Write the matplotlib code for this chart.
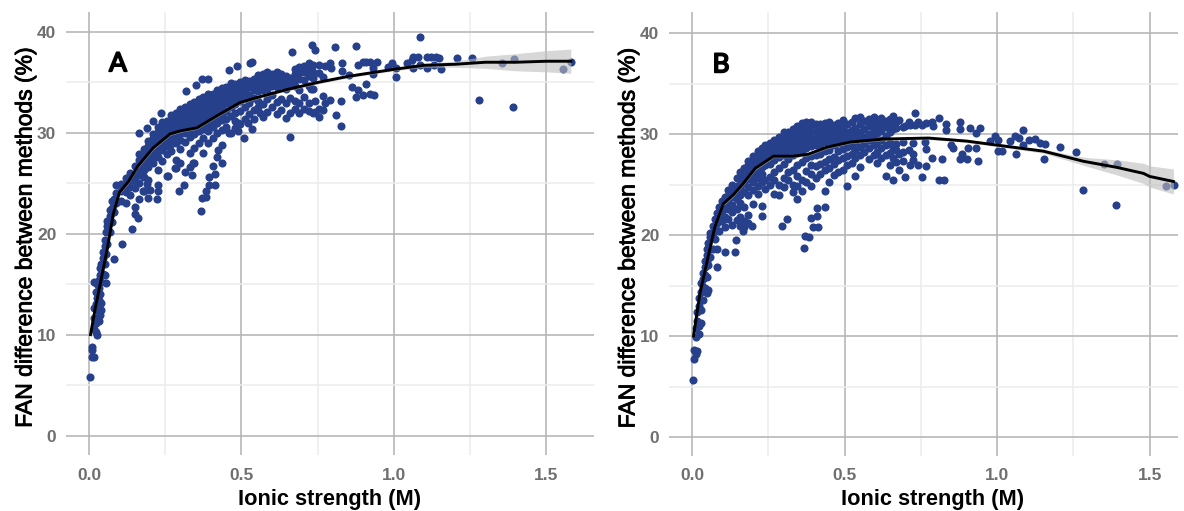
import matplotlib
matplotlib.use("Agg")
import matplotlib.pyplot as plt
import matplotlib.patheffects as pe
from matplotlib.ticker import MultipleLocator
import numpy as np

plt.rcParams["font.family"] = ["Liberation Sans", "DejaVu Sans"]

W, H = 1184, 511
POINT_COLOR = "#27408B"

# ------------------------------------------------------------
# Panel A: (x, [y values at that x])
# ------------------------------------------------------------
a_steep = [
    (0.003, [5.8]), (0.009, [8.8, 8.5]), (0.011, [7.8]), (0.015, [7.8, 10.6, 11.6]),
    (0.017, [15.2, 12.6]), (0.022, [10.3, 11.2, 13.0, 14.2]), (0.025, [10.0, 15.0, 13.6]),
    (0.032, [11.4, 12.2, 13.4, 14.6, 15.4]), (0.036, [11.9, 15.9, 14.0, 16.6]),
    (0.04, [13.1, 12.4, 17.0, 15.2]), (0.045, [16.0, 17.6, 18.2]), (0.052, [15.9, 17.0, 18.8, 19.4]),
    (0.055, [15.1, 18.0, 20.2]), (0.06, [19.0, 20.8, 21.3]), (0.068, [20.2, 21.8, 22.4]),
    (0.075, [21.2, 22.6, 23.2]), (0.082, [17.5, 22.2, 23.4]), (0.09, [23.0, 24.8, 24.0]),
    (0.107, [19.0]), (0.14, [20.5]), (0.15, [22.0]), (0.16, [21.6]),
]
a_fill = [
    (0.105, [24.2, 24.9, 23.2]), (0.12, [24.1, 24.8, 25.5, 23.0]), (0.135, [23.8, 24.6, 25.3, 26.0]),
    (0.15, [22.7, 24.5, 25.2, 25.9, 26.7]), (0.165, [23.4, 25.0, 25.8, 26.5, 27.3, 27.9]),
    (0.18, [24.2, 25.6, 26.3, 27.0, 27.7, 28.4]), (0.195, [23.5, 25.3, 26.6, 27.3, 28.0, 28.7, 29.2]),
    (0.21, [27.0, 27.6, 28.3, 28.9, 29.5, 29.9]), (0.225, [24.8, 26.3, 27.6, 28.2, 28.8, 29.5, 30.1, 30.6]),
    (0.24, [27.2, 28.3, 28.9, 29.5, 30.1, 30.7, 31.1]), (0.255, [25.7, 27.9, 28.7, 29.3, 30.0, 30.6, 31.2]),
    (0.27, [28.2, 28.9, 29.6, 30.2, 30.8, 31.4, 31.8]), (0.285, [26.5, 27.3, 29.0, 29.7, 30.3, 30.9, 31.6, 32.0]),
    (0.30, [27.0, 28.4, 29.3, 29.9, 30.6, 31.2, 31.9, 32.4]), (0.315, [26.1, 29.1, 30.0, 30.7, 31.4, 32.0, 32.6]),
    (0.33, [26.6, 28.0, 29.6, 30.3, 31.0, 31.6, 32.3, 32.9]), (0.345, [27.0, 28.5, 29.9, 30.6, 31.2, 31.9, 32.5, 33.1]),
    (0.36, [29.0, 30.2, 30.9, 31.5, 32.2, 32.8, 33.4]), (0.375, [28.0, 29.5, 30.4, 31.1, 31.8, 32.5, 33.1, 33.6]),
    (0.39, [29.0, 30.2, 30.9, 31.6, 32.3, 33.0, 33.6, 33.9]), (0.405, [29.5, 30.6, 31.3, 32.0, 32.7, 33.3, 33.9]),
    (0.42, [30.0, 31.0, 31.7, 32.4, 33.1, 33.7, 34.2]), (0.435, [30.3, 31.3, 32.0, 32.7, 33.4, 34.0, 34.4]),
    (0.45, [30.6, 31.4, 32.2, 33.0, 33.6, 34.2, 34.5]), (0.465, [30.0, 31.7, 32.6, 33.3, 33.9, 34.5, 34.9]),
    (0.48, [30.5, 31.2, 32.0, 32.9, 33.6, 34.2, 34.8]), (0.495, [30.9, 32.2, 33.2, 33.9, 34.5, 35.0]),
    (0.51, [31.4, 32.6, 33.6, 34.2, 34.8, 35.2]), (0.525, [31.9, 33.0, 33.8, 34.5, 35.1]),
    (0.54, [31.4, 32.3, 33.5, 34.2, 34.8, 35.3]), (0.555, [32.6, 33.2, 34.1, 34.7, 35.3, 35.7]),
    (0.57, [31.6, 32.9, 34.2, 34.8, 35.4, 35.8]), (0.585, [32.1, 33.4, 34.3, 35.0, 35.6, 36.0]),
    (0.60, [32.6, 33.8, 34.6, 35.2, 35.8]), (0.615, [31.9, 33.1, 34.5, 35.1, 35.7, 36.0]),
    (0.63, [32.3, 33.4, 34.7, 35.3, 35.8]), (0.645, [31.5, 33.0, 34.3, 35.0, 35.6]),
    (0.66, [32.0, 33.5, 34.8, 35.4]), (0.675, [32.4, 33.2, 34.6, 35.2, 35.8, 36.3]),
    (0.69, [32.0, 33.0, 34.2, 35.3, 35.9, 36.5]), (0.705, [32.4, 33.6, 35.2, 36.0, 36.6]),
    (0.72, [33.0, 32.2, 34.6, 35.6, 36.3, 36.9]), (0.735, [32.0, 34.3, 35.4, 36.0, 36.7]),
]
a_lower = [
    (0.367, [22.3]), (0.37, [23.5]), (0.383, [23.6, 24.2]), (0.395, [24.8, 25.6]), (0.413, [24.8, 25.9]),
    (0.408, [26.7]), (0.435, [27.0, 28.8]), (0.419, [27.6]), (0.424, [28.3]), (0.313, [24.8]), (0.295, [24.2]),
    (0.26, [25.7]), (0.227, [24.2]), (0.222, [23.4]), (0.19, [24.9]), (0.2, [24.3]), (0.178, [24.2]),
    (0.282, [26.5]), (0.337, [25.8]), (0.342, [27.0]), (0.508, [29.5]), (0.536, [30.4]), (0.659, [29.6]),
    (0.49, [30.2, 31.0]), (0.46, [30.0]), (0.52, [31.0]), (0.56, [32.0]),
]
a_right = [
    (0.164, [30.0]), (0.189, [30.5]), (0.209, [31.2]), (0.236, [32.0]), (0.317, [34.1]), (0.35, [34.7]),
    (0.37, [35.3]), (0.39, [35.3]), (0.458, [36.2]), (0.485, [36.6]), (0.528, [36.9]), (0.533, [37.0]),
    (0.667, [38.0]), (0.731, [38.7]), (0.74, [38.2, 33.2, 32.1]), (0.807, [38.5]), (0.876, [38.6, 33.6]),
    (1.085, [39.5, 36.7]), (1.207, [37.4]), (1.257, [37.4]), (1.353, [36.9]), (1.394, [37.3]), (1.553, [36.3]),
    (1.58, [37.0]), (1.28, [33.3]), (1.39, [32.6]), (1.008, [35.5, 36.4]), (0.826, [30.7, 33.2]), (0.809, [31.8]),
    (0.754, [31.6, 32.4, 35.9, 36.7]), (0.861, [34.5]), (0.907, [34.8, 37.0]), (0.9, [33.8, 37.0]), (0.933, [33.8]),
    (0.883, [34.2]), (0.922, [33.9, 37.0]), (0.945, [37.0]), (0.881, [36.7]), (0.83, [36.9, 36.1]), (0.853, [35.7]),
    (0.93, [36.4, 35.8]), (0.993, [36.9]), (0.98, [36.5]), (1.044, [36.9]), (1.064, [37.5, 36.4]), (1.08, [37.5]),
    (1.058, [37.2]), (1.107, [36.4, 37.5]), (1.153, [36.3]), (1.122, [37.5]), (1.138, [37.5]), (1.148, [37.4]),
    (1.13, [36.7]), (0.727, [34.3]), (0.766, [33.7, 32.3, 35.5]), (0.79, [33.3, 36.9]), (0.794, [36.4]), (0.775, [33.0, 36.6]),
]
a_curve_x = [0.005, 0.02, 0.04, 0.06, 0.08, 0.10, 0.13, 0.16, 0.21, 0.266, 0.30, 0.354, 0.42, 0.495, 0.55, 0.65,
             0.75, 0.85, 1.0, 1.1, 1.2, 1.3, 1.4, 1.5, 1.58]
a_curve_y = [10.0, 12.5, 15.5, 18.5, 22.0, 24.1, 25.2, 26.7, 28.5, 29.9, 30.2, 30.5, 31.7, 33.0, 33.5, 34.3,
             35.0, 35.6, 36.3, 36.7, 36.8, 37.0, 37.0, 37.1, 37.1]
a_se = [0.3, 0.25, 0.2, 0.2, 0.2, 0.2, 0.2, 0.2, 0.2, 0.15, 0.15, 0.15, 0.15, 0.15, 0.15, 0.15,
        0.15, 0.15, 0.15, 0.2, 0.3, 0.6, 0.85, 1.05, 1.2]

# ------------------------------------------------------------
# Panel B
# ------------------------------------------------------------
b_steep = [
    (0.002, [5.6]), (0.008, [7.7, 8.6]), (0.012, [8.2, 9.9, 10.8]), (0.018, [8.5, 11.5, 12.4]),
    (0.024, [10.2, 11.0, 13.0, 13.8]), (0.03, [11.3, 12.6, 14.4, 15.2]), (0.036, [13.6, 14.9, 15.6, 16.2]),
    (0.042, [14.8, 16.0, 16.8, 17.4]), (0.05, [14.3, 15.8, 17.4, 18.0, 18.6]), (0.054, [14.6, 17.0, 19.2]),
    (0.06, [17.8, 18.6, 19.8, 20.2]), (0.068, [18.6, 20.2, 20.9]), (0.075, [19.6, 20.8, 21.6]),
    (0.081, [16.8, 18.6, 21.2, 22.2]), (0.09, [20.4, 21.8, 22.8]), (0.098, [21.4, 22.4, 23.4]),
    (0.108, [18.3, 20.8, 21.8, 22.8, 23.8]), (0.141, [18.3]), (0.144, [19.5]), (0.168, [20.4]), (0.196, [20.9]),
]
b_fill = [
    (0.118, [21.6, 22.6, 23.2, 23.9, 24.5]), (0.13, [21.0, 22.3, 23.0, 23.8, 24.4, 25.0]),
    (0.146, [21.5, 22.6, 23.6, 24.3, 24.9, 25.6]), (0.158, [20.9, 21.8, 23.2, 24.0, 24.8, 25.5, 26.2]),
    (0.172, [20.8, 21.4, 22.8, 24.3, 25.1, 25.8, 26.6]), (0.185, [21.2, 22.0, 24.0, 24.8, 25.5, 26.2, 26.9, 27.3]),
    (0.20, [23.1, 24.5, 25.2, 25.9, 26.6, 27.3, 27.8]), (0.215, [24.1, 24.9, 25.6, 26.3, 27.0, 27.7, 28.3]),
    (0.228, [21.9, 22.9, 25.2, 26.0, 26.7, 27.4, 28.0, 28.6]), (0.24, [24.6, 25.4, 26.9, 27.6, 28.3, 28.9]),
    (0.255, [25.0, 25.7, 27.0, 27.8, 28.5, 29.1]), (0.27, [24.1, 25.4, 26.2, 27.4, 28.1, 28.8, 29.4]),
    (0.285, [24.0, 25.0, 26.6, 27.7, 28.4, 29.0, 29.7]), (0.30, [24.8, 25.6, 27.0, 27.9, 28.6, 29.3, 29.9, 30.2]),
    (0.315, [25.4, 26.2, 27.5, 28.2, 28.9, 29.6, 30.2]), (0.33, [24.3, 25.0, 26.4, 27.9, 28.5, 29.2, 29.9, 30.5]),
    (0.345, [23.6, 24.9, 25.8, 26.9, 28.1, 28.8, 29.5, 30.1, 30.8]), (0.36, [24.4, 25.4, 27.2, 28.3, 29.0, 29.7, 30.4, 31.1]),
    (0.375, [25.2, 26.3, 27.6, 28.6, 29.3, 30.0, 30.7, 31.2]), (0.39, [24.9, 26.0, 26.9, 27.8, 28.8, 29.5, 30.2, 30.9, 31.2]),
    (0.405, [25.6, 26.8, 27.9, 28.9, 29.6, 30.3, 31.0]), (0.42, [26.0, 27.0, 28.0, 29.0, 29.7, 30.4, 31.0]),
    (0.435, [24.4, 26.4, 27.2, 28.3, 29.2, 29.8, 30.5, 31.1]), (0.45, [25.2, 26.6, 27.5, 28.4, 29.3, 29.9, 30.6, 31.2]),
    (0.465, [25.9, 27.0, 27.7, 28.9, 29.6, 30.2, 30.9]), (0.48, [26.2, 27.4, 28.3, 29.1, 29.7, 30.4, 31.1]),
    (0.495, [26.4, 27.6, 28.5, 29.3, 30.0, 30.7, 31.4]), (0.507, [24.9, 26.9, 27.8, 28.7, 29.5, 30.2, 31.0]),
    (0.523, [27.1, 28.0, 28.8, 29.7, 30.4, 31.2]), (0.534, [25.8, 27.6, 28.4, 29.2, 29.9, 30.6, 31.6]),
    (0.551, [26.7, 27.9, 28.7, 29.5, 30.2, 31.0, 31.7]), (0.565, [28.2, 29.0, 29.7, 30.5, 31.3]),
    (0.58, [27.5, 28.6, 29.4, 30.0, 30.8, 31.5]), (0.595, [27.9, 28.9, 29.6, 30.4, 31.1, 31.7]),
    (0.605, [27.1, 28.2, 29.2, 30.1, 30.8, 31.4]), (0.62, [27.6, 28.6, 29.4, 30.3, 31.0, 31.6]),
    (0.635, [25.8, 27.9, 28.9, 29.8, 30.7, 31.3]), (0.649, [26.9, 28.1, 29.1, 30.2, 30.9, 31.5]),
    (0.658, [25.4, 27.6, 28.5, 30.5, 31.1, 31.8]), (0.67, [27.2, 28.4, 29.0, 30.6, 31.2]),
]
b_right = [
    (0.368, [18.7]), (0.37, [19.9]), (0.385, [19.8]), (0.395, [20.8]), (0.414, [20.8]), (0.39, [21.7]),
    (0.411, [21.9]), (0.409, [22.7]), (0.436, [22.8]), (0.294, [20.9]), (0.313, [21.6]),
    (0.731, [32.1, 30.9]), (0.808, [31.6, 25.4]), (0.832, [31.0, 30.4]), (0.877, [31.2, 27.5]), (0.879, [30.5]),
    (0.912, [30.6]), (0.945, [30.6]), (0.932, [30.1]), (0.994, [29.8]), (0.977, [29.3]), (1.004, [29.4, 28.3]),
    (1.016, [28.3]), (1.062, [28.0]), (1.042, [29.3]), (1.059, [29.8]), (1.084, [30.4]), (1.072, [29.6]),
    (1.086, [28.9]), (1.103, [29.4]), (1.125, [29.5]), (1.141, [29.1]), (1.157, [29.0]), (1.153, [27.5]),
    (1.207, [28.7]), (1.258, [28.2]), (1.351, [27.0]), (1.394, [27.0]), (1.553, [24.9]), (1.58, [25.0]),
    (1.28, [24.5]), (1.389, [23.0]), (0.698, [25.7, 30.8]), (0.753, [25.7, 30.9]), (0.826, [25.4]),
    (0.767, [26.8, 28.5, 31.1]), (0.74, [26.9, 31.2]), (0.715, [26.9, 30.9]), (0.693, [27.3, 28.2, 30.7, 29.2]),
    (0.821, [27.5]), (0.884, [28.0]), (0.906, [28.6]), (0.93, [28.6]), (0.9, [27.5]), (0.936, [27.3]),
    (0.857, [28.6]), (0.85, [28.9]), (0.786, [27.6, 31.2]), (0.725, [28.0, 27.4, 29.1]), (0.764, [29.2]),
    (0.79, [30.8]), (0.71, [31.2, 28.4]), (0.68, [31.4, 28.0, 26.4]),
]
b_curve_x = [0.005, 0.015, 0.026, 0.048, 0.075, 0.103, 0.136, 0.168, 0.207, 0.267, 0.332, 0.381, 0.442, 0.518,
             0.627, 0.775, 0.9, 1.0, 1.152, 1.283, 1.392, 1.48, 1.5, 1.578]
b_curve_y = [10.0, 12.0, 14.2, 17.2, 20.8, 23.1, 24.0, 25.1, 26.6, 27.8, 27.8, 28.0, 28.7, 29.2,
             29.5, 29.6, 29.3, 28.9, 28.3, 27.3, 26.7, 26.1, 25.8, 25.3]
b_se = [0.3, 0.25, 0.2, 0.2, 0.2, 0.2, 0.2, 0.2, 0.2, 0.15, 0.15, 0.15, 0.15, 0.15,
        0.15, 0.15, 0.15, 0.15, 0.2, 0.4, 0.75, 1.0, 1.05, 1.24]

x_ticks = [0.0, 0.5, 1.0, 1.5]
y_ticks = [0, 10, 20, 30, 40]


def unpack(*groups):
    xs, ys = [], []
    for group in groups:
        for x, values in group:
            for y in values:
                xs.append(x)
                ys.append(y)
    return xs, ys


def draw_panel(box, xlim, ylim, points, curve_x, curve_y, se, letter, label_cx):
    left, top, right, bottom = box
    ax = fig.add_axes([left / W, 1 - bottom / H, (right - left) / W, (bottom - top) / H])
    ax.set_xlim(*xlim)
    ax.set_ylim(*ylim)

    for side in ax.spines.values():
        side.set_visible(False)

    ax.set_xticks(x_ticks)
    ax.set_yticks(y_ticks)
    ax.xaxis.set_major_formatter("{x:.1f}")
    ax.xaxis.set_minor_locator(MultipleLocator(0.25))
    ax.yaxis.set_minor_locator(MultipleLocator(5))
    ax.grid(True, which="major", color="#b4b4b4", linewidth=1.15)
    ax.grid(True, which="minor", color="#ececec", linewidth=1.1)
    ax.set_axisbelow(True)
    ax.tick_params(which="both", length=0)
    ax.tick_params(axis="x", pad=9, labelsize=12.5, labelcolor="#6f6f6f")
    ax.tick_params(axis="y", pad=7, labelsize=12.5, labelcolor="#6f6f6f")
    for tick in ax.get_xticklabels() + ax.get_yticklabels():
        tick.set_fontweight("bold")

    xs, ys = points
    ax.scatter(xs, ys, s=34, color=POINT_COLOR, linewidths=0, zorder=3)

    cx = np.array(curve_x)
    cy = np.array(curve_y)
    err = np.array(se)
    ax.fill_between(cx, cy - err, cy + err, color="#bdbdbd", alpha=0.6, linewidth=0, zorder=4)
    ax.plot(cx, cy, color="black", linewidth=2.1, zorder=5)

    tag = ax.text(0.095, 36.85, letter, fontsize=19, color="black",
                  family=["Lato", "DejaVu Sans"], ha="center", va="center", zorder=6)
    tag.set_path_effects([pe.withStroke(linewidth=1.3, foreground="black")])

    fig.text(label_cx / W, 1 - 499.5 / H, "Ionic strength (M)", fontsize=15.7, fontweight="bold",
             color="black", ha="center", va="center")
    ylab = fig.text((left - 41) / W, 1 - ((top + bottom) / 2 + 4) / H, "FAN difference between methods (%)",
                    fontsize=16.5, color="black", rotation=90, ha="center", va="center")
    # reference label sits between regular and bold
    ylab.set_path_effects([pe.withStroke(linewidth=0.6, foreground="black")])
    return ax


fig = plt.figure(figsize=(W / 100, H / 100), dpi=100)

draw_panel((66, 12, 594, 455), (-0.0754, 1.656), (-1.93, 41.98),
           unpack(a_steep, a_fill, a_lower, a_right), a_curve_x, a_curve_y, a_se, "A", 330)
draw_panel((669, 12, 1178, 456), (-0.0754, 1.593), (-1.88, 42.08),
           unpack(b_steep, b_fill, b_right), b_curve_x, b_curve_y, b_se, "B", 933)

fig.savefig("out.png", dpi=100)
